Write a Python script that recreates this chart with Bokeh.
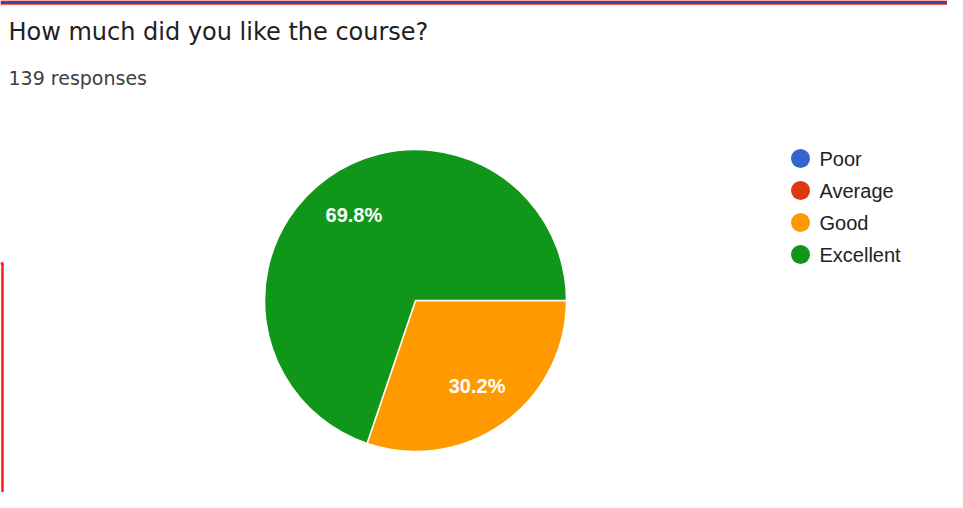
import math
from bokeh.plotting import figure
from bokeh.models import Range1d, ColumnDataSource
from bokeh.core.properties import value
from bokeh.embed import file_html
from bokeh.resources import INLINE

title = "How much did you like the course?"
subtitle = "139 responses"
categories = ["Poor", "Average", "Good", "Excellent"]
percents = [0.0, 0.0, 30.2, 69.8]
colors = ["#3366cc", "#dc3912", "#ff9900", "#109618"]

W, H = 947, 492
p = figure(width=W, height=H, output_backend="svg", toolbar_location=None,
           x_range=Range1d(0, W), y_range=Range1d(0, H),
           min_border=0, outline_line_color=None)
p.axis.visible = False
p.grid.visible = False
p.background_fill_color = "white"

def Y(y):  # screen pixel y -> data y
    return H - y

# screenshot frame lines
p.segment(x0=[0], y0=[Y(2)], x1=[W], y1=[Y(2)], line_color="#ff1a1a", line_width=4.5)
p.segment(x0=[0], y0=[Y(2)], x1=[W], y1=[Y(2)], line_color="#2d3f8f", line_width=1.5)
p.segment(x0=[2], y0=[Y(263)], x1=[2], y1=[Y(H)], line_color="#ff1a1a", line_width=2.5)
p.segment(x0=[0], y0=[Y(263)], x1=[3], y1=[Y(263)], line_color="#ff1a1a", line_width=2.5)

cx, cy, r = 415, Y(300), 151

# wedges: start at 3 o'clock, go clockwise, in category order
starts, ends, cols, mids, labels = [], [], [], [], []
acc = 0.0
for c, v, col in zip(categories, percents, colors):
    if v <= 0:
        continue
    a0 = -acc / 100 * 2 * math.pi
    a1 = -(acc + v) / 100 * 2 * math.pi
    starts.append(a0); ends.append(a1); cols.append(col)
    mids.append((a0 + a1) / 2)
    labels.append(f"{v:.1f}%")
    acc += v

src = ColumnDataSource(dict(start=starts, end=ends, color=cols))
p.wedge(x=cx, y=cy, radius=r, start_angle="start", end_angle="end",
        direction="clock", fill_color="color", line_color="white",
        line_width=1.5, source=src)

# percent labels along slice bisectors
lx = [cx + r * 0.70 * math.cos(m) for m in mids]
ly = [cy + r * 0.70 * math.sin(m) for m in mids]
lsrc = ColumnDataSource(dict(x=lx, y=ly, t=labels))
p.text(x="x", y="y", text="t", source=lsrc, text_color="white",
       text_font=value("Liberation Sans"), text_font_style="bold",
       text_font_size="20px", text_align="center", text_baseline="middle")

# title and subtitle
p.text(x=[8], y=[Y(31)], text=[title], text_font=value("DejaVu Sans"),
       text_font_size="24px", text_color="#202124", text_baseline="middle")
p.text(x=[8], y=[Y(77)], text=[subtitle], text_font=value("DejaVu Sans"),
       text_font_size="19px", text_color="#3c4043", text_baseline="middle")

# legend
leg_y = [Y(158 + 32 * i) for i in range(len(categories))]
p.scatter(x=[800] * len(categories), y=leg_y, size=19, marker="circle",
          fill_color=colors, line_color=None)
p.text(x=[819] * len(categories), y=leg_y, text=categories,
       text_font=value("Liberation Sans"), text_font_size="20px",
       text_color="#222222", text_baseline="middle")

open("out.html", "w").write(file_html(p, INLINE))
